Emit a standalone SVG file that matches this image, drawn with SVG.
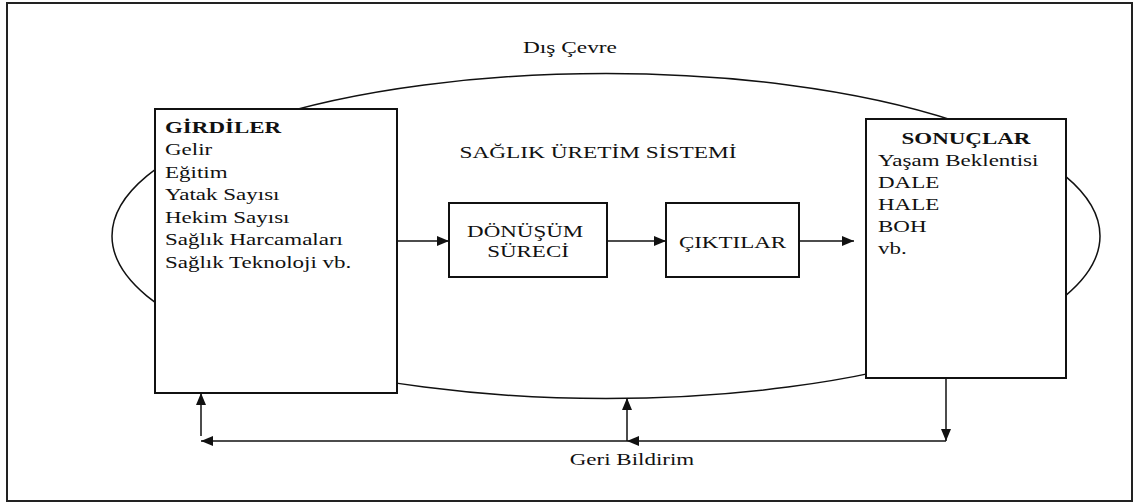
<svg xmlns="http://www.w3.org/2000/svg" width="1140" height="504" viewBox="0 0 1140 504">
  <style>
    .frame { fill: #ffffff; stroke: #222222; stroke-width: 2; }
    .env { fill: none; stroke: #111111; stroke-width: 1.5; }
    .box { fill: #ffffff; stroke: #111111; stroke-width: 2; }
    .conn { fill: none; stroke: #111111; stroke-width: 1.5; }
    .b { font-weight: bold; }
    .mid { text-anchor: middle; }
  </style>
  <defs>
    <marker id="arrow" viewBox="0 0 12 10" refX="12" refY="5" markerWidth="12" markerHeight="10" markerUnits="userSpaceOnUse" orient="auto">
      <path d="M0,0 L12,5 L0,10 z" fill="#111111"/>
    </marker>
  </defs>

  <!-- outer frame -->
  <rect class="frame" x="7" y="3" width="1125" height="498"/>

  <g font-family="Liberation Serif" font-size="23" fill="#111111">
    <!-- environment boundary -->
    <g id="environment">
      <ellipse class="env" cx="606" cy="236" rx="494" ry="162.5"/>
      <text class="mid" x="570" y="53" textLength="94" lengthAdjust="spacingAndGlyphs" font-size="17.5">Dış Çevre</text>
      <text class="mid" x="598" y="158" textLength="277" lengthAdjust="spacingAndGlyphs" font-size="17.5">SAĞLIK ÜRETİM SİSTEMİ</text>
    </g>

    <!-- inputs -->
    <g id="girdiler">
      <rect class="box" x="155" y="109" width="242" height="284"/>
      <text transform="translate(165 133) scale(1 0.76)">
        <tspan class="b" x="0" y="0">GİRDİLER</tspan>
        <tspan x="0" y="29.5">Gelir</tspan>
        <tspan x="0" y="59">Eğitim</tspan>
        <tspan x="0" y="88.5">Yatak Sayısı</tspan>
        <tspan x="0" y="118">Hekim Sayısı</tspan>
        <tspan x="0" y="147.5">Sağlık Harcamaları</tspan>
        <tspan x="0" y="177">Sağlık Teknoloji vb.</tspan>
      </text>
    </g>

    <!-- transformation process -->
    <g id="donusum">
      <rect class="box" x="449" y="203" width="158" height="74"/>
      <text class="mid" transform="translate(528 237) scale(1 0.76)">
        <tspan x="0" y="0">DÖNÜŞÜM</tspan>
        <tspan x="0" y="26.3">SÜRECİ</tspan>
      </text>
    </g>

    <!-- outputs -->
    <g id="ciktilar">
      <rect class="box" x="666" y="203" width="133" height="74"/>
      <text class="mid" transform="translate(732.5 248) scale(1 0.76)">ÇIKTILAR</text>
    </g>

    <!-- outcomes -->
    <g id="sonuclar">
      <rect class="box" x="866" y="119" width="200" height="259"/>
      <text class="b mid" transform="translate(966 144) scale(1 0.76)">SONUÇLAR</text>
      <text transform="translate(878 166) scale(1 0.76)">
        <tspan x="0" y="0">Yaşam Beklentisi</tspan>
        <tspan x="0" y="29">DALE</tspan>
        <tspan x="0" y="58">HALE</tspan>
        <tspan x="0" y="87">BOH</tspan>
        <tspan x="0" y="116">vb.</tspan>
      </text>
    </g>

    <!-- feedback label -->
    <g id="geri-bildirim">
      <text class="mid" transform="translate(632 465) scale(1 0.76)">Geri Bildirim</text>
    </g>
  </g>

  <!-- connectors -->
  <g id="connectors">
    <line class="conn" x1="397" y1="241" x2="449" y2="241" marker-end="url(#arrow)"/>
    <line class="conn" x1="607" y1="241" x2="666" y2="241" marker-end="url(#arrow)"/>
    <line class="conn" x1="799" y1="241" x2="854" y2="241" marker-end="url(#arrow)"/>
    <line class="conn" x1="946" y1="378" x2="946" y2="441" marker-end="url(#arrow)"/>
    <line class="conn" x1="946" y1="441" x2="627" y2="441" marker-end="url(#arrow)"/>
    <line class="conn" x1="627" y1="441" x2="627" y2="398" marker-end="url(#arrow)"/>
    <line class="conn" x1="627" y1="441" x2="201" y2="441" marker-end="url(#arrow)"/>
    <line class="conn" x1="201" y1="436" x2="201" y2="393" marker-end="url(#arrow)"/>
  </g>
</svg>
